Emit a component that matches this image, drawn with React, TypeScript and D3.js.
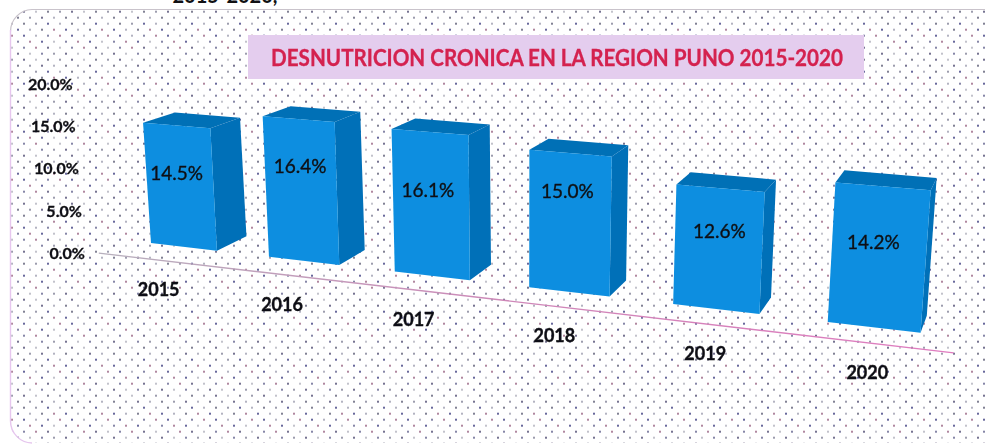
import * as d3 from "d3";

// values
const years = ["2015", "2016", "2017", "2018", "2019", "2020"];
const desnutricion = [14.5, 16.4, 16.1, 15.0, 12.6, 14.2];
const yTicks = [0, 5, 10, 15, 20];
const titulo = "DESNUTRICION CRONICA EN LA REGION PUNO 2015-2020";
const encabezado = "2015-2020,";

// where each label sits on its bar, as a share of the bar height and width
const labelLift = [0.6, 0.667, 0.59, 0.72, 0.647, 0.6];
const labelAcross = [0.46, 0.5, 0.465, 0.47, 0.51, 0.44];

const width = 985;
const height = 444;
const font = "Lato, 'Open Sans', sans-serif";

const colors = {
  front: "#0a8ee0",
  side: "#006fb8",
  top: "#066fb6",
  title: "#d4214f",
  titleBox: "#e4cdee",
  text: "#111114",
};

// the chart is a tilted 3d column chart, so the scales go through a small perspective
const xBand = d3.scaleBand<string>().domain(years).range([0, 5.567]).paddingInner(0.433);
const yScale = d3.scaleLinear().domain([0, 20]).range([0, 166]);
const baselineY = d3.scaleLinear().domain([151, 828]).range([243, 322]);

const shrink = 0.0311;
const stepPx = 114.3;
const alongAxis = (u: number) => 151 + (stepPx * u) / (1 - shrink * u);

const vanish = { x: 1110, y: -185 };
const barDepth = 0.033;
const axisDepth = -0.03;

function project(u: number, value: number, depth = 0): [number, number] {
  const x0 = alongAxis(u);
  const y0 = baselineY(x0);
  const h = yScale(value) / (1 - shrink * u);
  const x = x0 + ((x0 - 520) / 5600) * h;
  const y = y0 - h;
  return [x + depth * (vanish.x - x), y + depth * (vanish.y - y)];
}

const poly = d3.line().curve(d3.curveLinearClosed);

// dot pattern of the page background, a few dots come out darker or coloured
const dotColors = ["#45436a", "#9a9aac", "#5d5d8a", "#7b7b92", "#35357a", "#adadb9", "#55556f", "#95607f"];
const dots = d3.range(0, 8).flatMap((row) =>
  d3.range(0, 4).map((col) => ({
    x: col * 12 + (row % 2 ? 6 : 0) + 1,
    y: row * 6 + 1,
    fill: dotColors[(row * 3 + col * 5) % dotColors.length],
  }))
);

export default function App() {
  const axisStart = project(-0.2, 0, axisDepth);
  const axisEnd = project(5.79, 0, axisDepth);

  return (
    <svg
      width={width}
      height={height}
      viewBox={`0 0 ${width} ${height}`}
      style={{ position: "absolute", left: 0, top: 0, display: "block", background: "#fff" }}
    >
      <defs>
        <pattern id="dots" x={-1} y={-1.3} width={48} height={48} patternUnits="userSpaceOnUse">
          {dots.map((d, i) => (
            <circle key={i} cx={d.x} cy={d.y} r={1} fill={d.fill} />
          ))}
        </pattern>
        <linearGradient id="axisLine" x1="0" x2="1" y1="0" y2="0">
          <stop offset="0" stopColor="#b7b0bd" />
          <stop offset="0.5" stopColor="#cf86b8" />
          <stop offset="1" stopColor="#e07cc0" />
        </linearGradient>
        <filter id="scan" x="-5%" y="-5%" width="110%" height="110%">
          <feGaussianBlur stdDeviation="0.45" />
        </filter>
      </defs>

      <text x={225} y={3} textAnchor="middle" fontFamily={font} fontWeight={700} fontSize={20} fill={colors.text}>
        {encabezado}
      </text>

      <g filter="url(#scan)">
        <rect x={10} y={9} width={1020} height={434} rx={22} fill="url(#dots)" />
        <path d="M985,9.5H32A22,22 0 0 0 10.5,31.5" fill="none" stroke="#c9c3cb" strokeWidth={1.2} />
        <path d="M10.5,30V421A22,22 0 0 0 32,443" fill="none" stroke="#e6c6ee" strokeWidth={1.4} />

        <rect x={248} y={35} width={616} height={44} fill={colors.titleBox} />
        <text
          x={271}
          y={66}
          textLength={572}
          lengthAdjust="spacingAndGlyphs"
          fontFamily={font}
          fontWeight={700}
          fontSize={22}
          stroke={colors.title}
          strokeWidth={0.3}
          fill={colors.title}
        >
          {titulo}
        </text>

        {yTicks.map((t) => {
          const [x, y] = project(-0.32, t, axisDepth);
          return (
            <text
              key={t}
              x={x}
              y={y + 2}
              dy="0.35em"
              textAnchor="end"
              fontFamily={font}
              fontWeight={700}
              fontSize={16}
              stroke={colors.text}
              strokeWidth={0.3}
              fill={colors.text}
            >
              {d3.format(".1f")(t)}%
            </text>
          );
        })}

        <line
          x1={axisStart[0]}
          y1={axisStart[1]}
          x2={axisEnd[0]}
          y2={axisEnd[1]}
          stroke="url(#axisLine)"
          strokeWidth={1.4}
        />

        {years.map((year, i) => {
          const value = desnutricion[i];
          const u0 = xBand(year)!;
          const u1 = u0 + xBand.bandwidth();
          const uc = u0 + xBand.bandwidth() * labelAcross[i];
          const front = [project(u0, value), project(u1, value), project(u1, 0), project(u0, 0)];
          const side = [
            project(u1, value),
            project(u1, value, barDepth),
            project(u1, 0, barDepth),
            project(u1, 0),
          ];
          const top = [
            project(u0, value),
            project(u0, value, barDepth),
            project(u1, value, barDepth),
            project(u1, value),
          ];
          const label = project(uc, value * labelLift[i]);
          const yearPos = project(u0 + xBand.bandwidth() / 2, 0, -0.027);
          return (
            <g key={year}>
              <path d={poly(side)!} fill={colors.side} />
              <path d={poly(top)!} fill={colors.top} />
              <path d={poly(front)!} fill={colors.front} />
              <text
                x={label[0]}
                y={label[1]}
                dy="0.35em"
                textAnchor="middle"
                fontFamily={font}
                fontSize={19}
                stroke={colors.text}
                strokeWidth={0.35}
                fill={colors.text}
              >
                {d3.format(".1f")(value)}%
              </text>
              <text
                x={yearPos[0]}
                y={yearPos[1] + 31.5}
                dy="0.35em"
                textAnchor="middle"
                fontFamily={font}
                fontWeight={700}
                fontSize={18}
                stroke={colors.text}
                strokeWidth={0.35}
                fill={colors.text}
              >
                {year}
              </text>
            </g>
          );
        })}
      </g>
    </svg>
  );
}
